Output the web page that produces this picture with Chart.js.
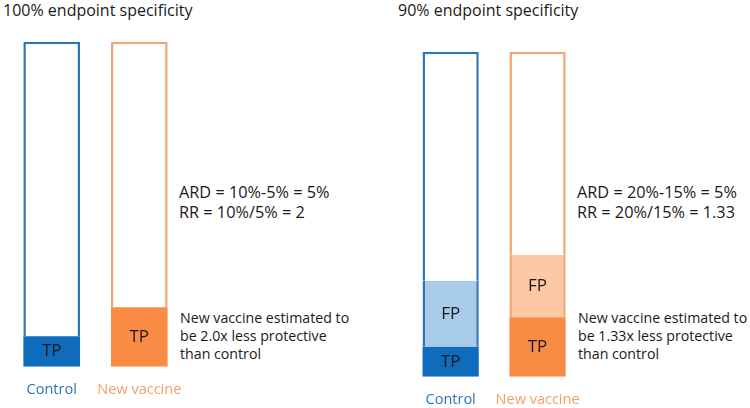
<!DOCTYPE html>
<html>
<head>
<meta charset="utf-8">
<script src="https://cdn.jsdelivr.net/npm/chart.js@4.4.0/dist/chart.umd.min.js"></script>
<style>
  html, body { margin: 0; padding: 0; background: #fff; }
  body { width: 750px; height: 408px; position: relative; overflow: hidden; font-family: "Open Sans", "Noto Sans", sans-serif; color: #1a1a1a; }
  .box { position: absolute; }
  .t { position: absolute; white-space: nowrap; }
  .title { font-size: 16px; line-height: 20px; }
  .eq { font-size: 16.3px; line-height: 20px; }
  .note { font-size: 14.2px; line-height: 17.8px; }
</style>
</head>
<body>
<div class="t title" style="left:3px; top:0px;">100% endpoint specificity</div>
<div class="t title" style="left:398px; top:0px;">90% endpoint specificity</div>

<div class="t eq" style="left:179px; top:182px;">ARD = 10%-5% = 5%<br>RR = 10%/5% = 2</div>
<div class="t eq" style="left:577px; top:182px;">ARD = 20%-15% = 5%<br>RR = 20%/15% = 1.33</div>

<div class="t note" style="left:180px; top:309px;">New vaccine estimated to<br>be 2.0x less protective<br>than control</div>
<div class="t note" style="left:578px; top:309px;">New vaccine estimated to<br>be 1.33x less protective<br>than control</div>

<div class="box" style="left:0px; top:0px; width:200px; height:408px;"><canvas id="c1"></canvas></div>
<div class="box" style="left:390px; top:0px; width:210px; height:408px;"><canvas id="c2"></canvas></div>

<script>
// ---- data (bar outline = 100 units) ----
const categories = ['Control', 'New vaccine'];
const barTotal = [100, 100];
const leftTP  = [9.4, 18.3];
const leftFP  = [0, 0];
const rightTP = [9.2, 18.3];
const rightFP = [20.3, 19.2];
const segmentNames = ['TP', 'FP'];

// ---- styles ----
const outlineColors = ['#2E75B6', '#F4A470'];
const tpColors = ['#0F6CBD', '#F98B45'];
const fpColors = ['#A8CBEA', '#FDC9A5'];
const labelColors = ['#2E75B6', '#F2A06B'];
const FONT = '"Open Sans", "Noto Sans", sans-serif';

const segLabelPlugin = {
  id: 'segLabels',
  afterDatasetsDraw(chart) {
    const ctx = chart.ctx;
    ctx.save();
    ctx.font = '17px ' + FONT;
    ctx.fillStyle = '#1a1a1a';
    ctx.textAlign = 'center';
    ctx.textBaseline = 'middle';
    chart.data.datasets.forEach((ds, di) => {
      if (!ds.segLabel) return;
      const meta = chart.getDatasetMeta(di);
      meta.data.forEach((el, i) => {
        if (!ds.data[i]) return;
        ctx.fillText(ds.segLabel, el.x, (el.y + el.base) / 2);
      });
    });
    ctx.restore();
  }
};

function makeChart(id, tp, fp, padding) {
  const rest = barTotal.map((t, i) => t - tp[i] - fp[i]);
  return new Chart(document.getElementById(id), {
    type: 'bar',
    data: {
      labels: categories,
      datasets: [
        { label: segmentNames[0], segLabel: segmentNames[0], data: tp,
          backgroundColor: tpColors, borderWidth: 0, borderSkipped: false },
        { label: segmentNames[1], segLabel: segmentNames[1], data: fp,
          backgroundColor: fpColors, borderColor: outlineColors,
          borderWidth: {top: 0, bottom: 0, left: 2.5, right: 2.5}, borderSkipped: false },
        { label: 'rest', data: rest,
          backgroundColor: '#ffffff', borderColor: outlineColors,
          borderWidth: {top: 2.5, bottom: 0, left: 2.5, right: 2.5}, borderSkipped: false }
      ]
    },
    options: {
      responsive: true,
      maintainAspectRatio: false,
      animation: false,
      layout: { padding: padding },
      datasets: { bar: { categoryPercentage: 1, barPercentage: 0.647, inflateAmount: 0 } },
      plugins: { legend: { display: false }, tooltip: { enabled: false } },
      scales: {
        x: {
          stacked: true,
          grid: { display: false, drawTicks: false },
          border: { display: false },
          ticks: { color: labelColors, font: { family: FONT, size: 14.5 }, padding: 14,
                   maxRotation: 0, minRotation: 0, autoSkip: false },
          afterFit: (axis) => { axis.height = 30; }
        },
        y: { stacked: true, display: false, min: 0, max: 100 }
      }
    },
    plugins: [segLabelPlugin]
  });
}

makeChart('c1', leftTP, leftFP, {left: 7.9, right: 16.9, top: 41.7, bottom: 11.3});
makeChart('c2', rightTP, rightFP, {left: 17.2, right: 19, top: 51.7, bottom: 1.3});
</script>
</body>
</html>
